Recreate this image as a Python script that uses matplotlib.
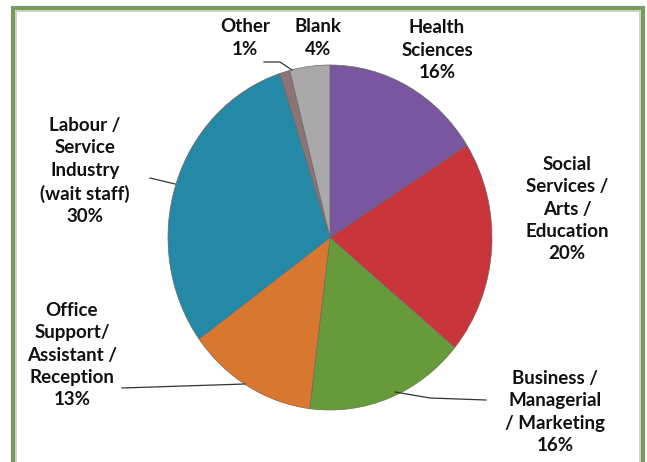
import matplotlib.pyplot as plt

labels = ["Health\nSciences\n16%", "Social\nServices /\nArts /\nEducation\n20%",
          "Business /\nManagerial\n/ Marketing\n16%", "Office\nSupport/\nAssistant /\nReception\n13%",
          "Labour /\nService\nIndustry\n(wait staff)\n30%", "Other\n1%", "Blank\n4%"]
values = [16, 20, 16, 13, 30, 1, 4]
colors = ["#7b56a0", "#c9353a", "#679a39", "#d8772f", "#2389a7", "#8c7375", "#a9a9a9"]

W, H = 647, 462
fig = plt.figure(figsize=(W / 100, H / 100), dpi=100)

# pie axes (slightly taller than wide, like the original)
pax = fig.add_axes([168 / W, (H - 410) / H, 324 / W, 345 / H])
pax.pie(values, colors=colors, startangle=90, counterclock=False, radius=1,
        wedgeprops=dict(edgecolor="#6a6a6a", linewidth=0.5))
pax.set_xlim(-1, 1)
pax.set_ylim(-1, 1)
pax.set_aspect("auto")
pax.axis("off")

# overlay in pixel coordinates (y down) for labels, leaders and frame
ax = fig.add_axes([0, 0, 1, 1], zorder=5)
ax.set_xlim(0, W)
ax.set_ylim(H, 0)
ax.axis("off")
ax.patch.set_alpha(0)

# frame
ax.plot([13, 13, 643, 643], [H + 5, 8, 8, H + 5], color="#7a9c5a", lw=3, solid_joinstyle="miter")
ax.plot([16, 16, 640, 640], [H + 5, 11, 11, H + 5], color="#c8c8c8", lw=1.2)

label_pos = [(437, 50), (567, 209), (555, 412), (72, 355), (85, 171), (245, 38), (318, 38)]
for text, (x, y) in zip(labels, label_pos):
    ax.text(x, y, text, ha="center", va="center", fontsize=13.5, fontweight="bold",
            family="Lato", linespacing=1.38, color="#111111")

# leader lines
ax.plot([486, 430, 395], [400, 398, 392], color="#333333", lw=0.9)
ax.plot([122, 245], [388, 384], color="#333333", lw=0.9)
ax.plot([150, 175], [178, 184], color="#333333", lw=0.9)
ax.plot([264, 280, 292], [62, 62, 70], color="#333333", lw=0.9)

fig.savefig("out.png", dpi=100)
